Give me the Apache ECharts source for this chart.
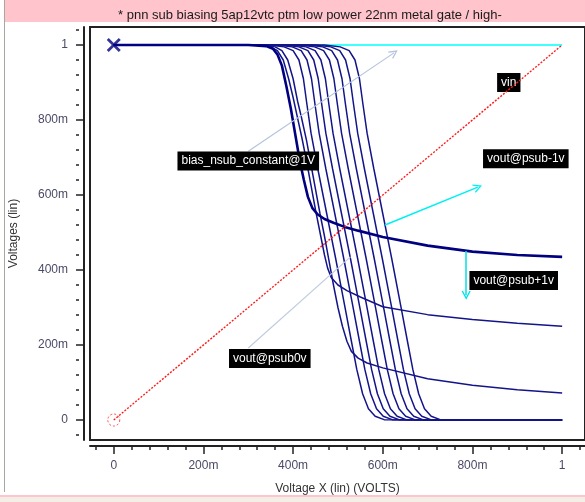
<!DOCTYPE html>
<html><head><meta charset="utf-8">
<script src="https://cdn.jsdelivr.net/npm/echarts@6/dist/echarts.min.js"></script>
<style>html,body{margin:0;padding:0;background:#fff}#c{width:585px;height:502px}</style>
</head><body><div id="c"></div>
<script>
// ---------- text ----------
const titleText = '* pnn sub biasing 5ap12vtc ptm low power 22nm metal gate / high-';
const xAxisName = 'Voltage X (lin) (VOLTS)';
const yAxisName = 'Voltages (lin)';

// ---------- ticks ----------
const majorTicks = [0, 0.2, 0.4, 0.6, 0.8, 1];
const majorTickLabels = ['0', '200m', '400m', '600m', '800m', '1'];
const minorTicks = [-0.04, 0, 0.04, 0.08, 0.12, 0.16, 0.2, 0.24, 0.28, 0.32, 0.36, 0.4, 0.44, 0.48, 0.52,
  0.56, 0.6, 0.64, 0.68, 0.72, 0.76, 0.8, 0.84, 0.88, 0.92, 0.96, 1, 1.04];

// ---------- series data ----------
const vin = [[0, 0], [1, 1]];
const vHigh = [[0, 1], [1, 1]];
const vThick = [[0,1],[0.3,1],[0.34,0.997],[0.355,0.99],[0.365,0.975],[0.375,0.945],[0.385,0.89],[0.395,0.83],
  [0.405,0.76],[0.415,0.69],[0.424,0.64],[0.433,0.595],[0.443,0.565],[0.455,0.548],[0.47,0.536],[0.49,0.526],
  [0.515,0.515],[0.545,0.505],[0.6,0.488],[0.7,0.465],[0.8,0.449],[0.9,0.44],[1,0.435]];
const vA = [[0,1],[0.32,1],[0.35,0.995],[0.365,0.985],[0.378,0.96],[0.39,0.91],[0.4,0.86],[0.41,0.805],
  [0.42,0.75],[0.43,0.69],[0.44,0.625],[0.45,0.56],[0.46,0.5],[0.47,0.44],[0.477,0.405],[0.485,0.38],
  [0.5,0.36],[0.52,0.345],[0.55,0.328],[0.6,0.302],[0.7,0.281],[0.8,0.268],[0.9,0.258],[1,0.25]];
const vB = [[0,1],[0.33,1],[0.36,0.995],[0.375,0.985],[0.388,0.96],[0.4,0.91],[0.41,0.85],[0.418,0.81],
  [0.43,0.745],[0.44,0.68],[0.45,0.615],[0.46,0.55],[0.47,0.49],[0.48,0.425],[0.49,0.36],[0.5,0.3],
  [0.51,0.25],[0.52,0.21],[0.53,0.183],[0.545,0.165],[0.565,0.152],[0.6,0.139],[0.7,0.11],[0.8,0.093],
  [0.9,0.081],[1,0.072]];
const vC = [[0,1],[0.345,1],[0.38,0.995],[0.4,0.985],[0.413,0.96],[0.423,0.91],[0.431,0.84],[0.44,0.765],
  [0.455,0.67],[0.475,0.55],[0.495,0.43],[0.515,0.305],[0.53,0.21],[0.542,0.135],[0.555,0.07],[0.568,0.03],
  [0.583,0.01],[0.603,0.001],[1,0]];
const vD = [[0,1],[0.363,1],[0.398,0.995],[0.418,0.985],[0.431,0.96],[0.441,0.91],[0.449,0.84],[0.458,0.765],
  [0.473,0.67],[0.493,0.55],[0.513,0.43],[0.533,0.305],[0.548,0.21],[0.56,0.135],[0.573,0.07],[0.586,0.03],
  [0.601,0.01],[0.621,0.001],[1,0]];
const vE = [[0,1],[0.378,1],[0.413,0.995],[0.433,0.985],[0.446,0.96],[0.456,0.91],[0.464,0.84],[0.473,0.765],
  [0.488,0.67],[0.508,0.55],[0.528,0.43],[0.548,0.305],[0.563,0.21],[0.575,0.135],[0.588,0.07],[0.601,0.03],
  [0.616,0.01],[0.636,0.001],[1,0]];
const vF = [[0,1],[0.394,1],[0.429,0.995],[0.449,0.985],[0.462,0.96],[0.472,0.91],[0.48,0.84],[0.489,0.765],
  [0.504,0.67],[0.524,0.55],[0.544,0.43],[0.564,0.305],[0.579,0.21],[0.591,0.135],[0.604,0.07],[0.617,0.03],
  [0.632,0.01],[0.652,0.001],[1,0]];
const vG = [[0,1],[0.413,1],[0.448,0.995],[0.468,0.985],[0.481,0.96],[0.491,0.91],[0.499,0.84],[0.508,0.765],
  [0.523,0.67],[0.543,0.55],[0.563,0.43],[0.583,0.305],[0.598,0.21],[0.61,0.135],[0.623,0.07],[0.636,0.03],
  [0.651,0.01],[0.671,0.001],[1,0]];
const vH = [[0,1],[0.431,1],[0.466,0.995],[0.486,0.985],[0.499,0.96],[0.509,0.91],[0.517,0.84],[0.526,0.765],
  [0.541,0.67],[0.561,0.55],[0.581,0.43],[0.601,0.305],[0.616,0.21],[0.628,0.135],[0.641,0.07],[0.654,0.03],
  [0.669,0.01],[0.689,0.001],[1,0]];
const vI = [[0,1],[0.449,1],[0.484,0.995],[0.504,0.985],[0.517,0.96],[0.527,0.91],[0.535,0.84],[0.544,0.765],
  [0.559,0.67],[0.579,0.55],[0.599,0.43],[0.619,0.305],[0.634,0.21],[0.646,0.135],[0.659,0.07],[0.672,0.03],
  [0.687,0.01],[0.707,0.001],[1,0]];
const vR = [[0,1],[0.47,1],[0.505,0.995],[0.525,0.985],[0.538,0.96],[0.548,0.91],[0.556,0.84],[0.565,0.765],
  [0.58,0.67],[0.6,0.55],[0.62,0.43],[0.64,0.305],[0.655,0.21],[0.667,0.135],[0.68,0.07],[0.693,0.03],
  [0.708,0.01],[0.728,0.001],[1,0]];
const crossMarker = [[0, 1]];
const circleMarker = [[0, 0]];

// ---------- annotations (data coordinates) ----------
const annotationTexts = ['vin', 'bias_nsub_constant@1V', 'vout@psub-1v', 'vout@psub+1v', 'vout@psub0v'];
const annotationCoords = [[0.881, 0.9], [0.300, 0.691], [0.919, 0.697], [0.892, 0.372], [0.348, 0.164]];
const arrowFrom = [[0.300, 0.717], [0.300, 0.192], [0.605, 0.52], [0.786, 0.451]];
const arrowTo   = [[0.625, 0.979], [0.528, 0.435], [0.812, 0.621], [0.786, 0.333]];

// ---------- chart ----------
const FONT = 'Liberation Sans';
const LBL = '#4a4a66';
const AX = '#222';
const chevron = 'path://M0,10 L5,0 L10,10 L8.6,10.6 L5,3.2 L1.4,10.6 Z';
const xMin = -0.053, xMax = 1.051, yMin = -0.0533, yMax = 1.048;
const GL = 87, GT = 27, GW = 500, GH = 413, AXOFF = 6;

function fmt(v) {
  for (let i = 0; i < majorTicks.length; i++) if (Math.abs(majorTicks[i] - v) < 1e-6) return majorTickLabels[i];
  return '';
}

const chart = echarts.init(document.getElementById('c'), null, {renderer: 'canvas'});

const navy = '#000080';
const thin = (name, data) => ({
  name, type: 'line', data, xAxisIndex: 0, yAxisIndex: 0, showSymbol: false, symbol: 'none',
  lineStyle: {color: '#14148a', width: 1.5}, z: 3, animation: false, silent: true
});

const option = {
  backgroundColor: '#ffffff',
  animation: false,
  title: {
    text: titleText, left: 113, top: 4,
    textStyle: {fontFamily: FONT, fontSize: 13, fontWeight: 'normal', color: '#1a1a1a'}
  },
  graphic: [
    {type: 'rect', z: -10, shape: {x: 5, y: 0, width: 580, height: 22}, style: {fill: '#ffc4cc'}},
    {type: 'line', z: 10, shape: {x1: 4.5, y1: 0, x2: 4.5, y2: 492}, style: {stroke: '#a8a8a0', lineWidth: 1}},
    {type: 'rect', z: -10, shape: {x: 0, y: 495, width: 585, height: 2}, style: {fill: '#ffc4cc'}},
    {type: 'rect', z: -10, shape: {x: 0, y: 497, width: 585, height: 5}, style: {fill: '#f3efe6'}}
  ],
  grid: {
    left: GL, top: GT, width: GW, height: GH, show: true,
    borderColor: '#222', borderWidth: 2, backgroundColor: '#fff', containLabel: false
  },
  xAxis: [
    {
      type: 'value', min: xMin, max: xMax, position: 'bottom', offset: AXOFF,
      name: xAxisName, nameLocation: 'middle', nameGap: 37,
      nameTextStyle: {fontFamily: FONT, fontSize: 12, color: '#333'},
      axisLine: {show: true, onZero: false, lineStyle: {color: AX, width: 2}},
      axisTick: {show: true, length: 8, customValues: majorTicks, lineStyle: {color: AX, width: 1.5}},
      axisLabel: {show: true, customValues: majorTicks, formatter: fmt, margin: 14,
        fontFamily: FONT, fontSize: 12, color: LBL},
      splitLine: {show: false}
    },
    {
      // minor ticks: placed on the opposite side and shifted down onto the bottom axis line
      type: 'value', min: xMin, max: xMax, position: 'top', offset: -(GH + AXOFF),
      axisLine: {show: false, onZero: false},
      axisTick: {show: true, inside: true, length: 4, customValues: minorTicks, lineStyle: {color: AX, width: 1.5}},
      axisLabel: {show: false},
      splitLine: {show: false}
    }
  ],
  yAxis: [
    {
      type: 'value', min: yMin, max: yMax, position: 'left', offset: AXOFF,
      name: yAxisName, nameLocation: 'middle', nameGap: 64, nameRotate: 90,
      nameTextStyle: {fontFamily: FONT, fontSize: 12, color: '#333'},
      axisLine: {show: true, onZero: false, lineStyle: {color: AX, width: 2}},
      axisTick: {show: true, length: 6, customValues: majorTicks, lineStyle: {color: AX, width: 1.5}},
      axisLabel: {show: true, customValues: majorTicks, formatter: fmt, margin: 16,
        fontFamily: FONT, fontSize: 12, color: LBL},
      splitLine: {show: false}
    },
    {
      type: 'value', min: yMin, max: yMax, position: 'right', offset: -(GW + AXOFF),
      axisLine: {show: false, onZero: false},
      axisTick: {show: true, inside: true, length: 3, customValues: minorTicks, lineStyle: {color: AX, width: 1.5}},
      axisLabel: {show: false},
      splitLine: {show: false}
    }
  ],
  series: [
    {
      name: 'vhigh', type: 'line', data: vHigh, showSymbol: false, symbol: 'none',
      lineStyle: {color: '#00ffff', width: 1.6}, z: 2, silent: true
    },
    thin('vC', vC), thin('vD', vD), thin('vE', vE), thin('vF', vF), thin('vG', vG),
    thin('vH', vH), thin('vI', vI), thin('vR', vR), thin('vA', vA), thin('vB', vB),
    {
      name: 'vthick', type: 'line', data: vThick, showSymbol: false, symbol: 'none',
      lineStyle: {color: navy, width: 2.6}, z: 4, silent: true
    },
    {
      name: 'vin', type: 'line', data: vin, showSymbol: false, symbol: 'none',
      lineStyle: {color: '#ff1a1a', width: 1.4, type: [2, 1.5]}, z: 5, silent: true
    },
    {
      name: 'crossMarker', type: 'scatter', data: crossMarker, symbolSize: 14,
      symbol: 'path://M0,1.4 L1.4,0 L5,3.6 L8.6,0 L10,1.4 L6.4,5 L10,8.6 L8.6,10 L5,6.4 L1.4,10 L0,8.6 L3.6,5 Z',
      itemStyle: {color: navy}, z: 6, silent: true
    },
    {
      name: 'circleMarker', type: 'scatter', data: circleMarker, symbolSize: 12, symbol: 'circle',
      itemStyle: {color: 'rgba(0,0,0,0)', borderColor: '#ff2020', borderWidth: 1, borderType: [2, 2]},
      z: 6, silent: true
    },
    {
      name: 'annotations', type: 'line', data: [], z: 7, silent: true,
      markLine: {
        silent: true, animation: false, symbol: ['none', chevron], symbolSize: [9, 9],
        label: {show: false},
        data: [
          [{coord: arrowFrom[0], lineStyle: {color: '#b4c4dc', width: 1.2, type: 'solid'}}, {coord: arrowTo[0]}],
          [{coord: arrowFrom[1], lineStyle: {color: '#c0cce0', width: 1.2, type: 'solid'}, symbol: 'none'}, {coord: arrowTo[1], symbol: 'none'}],
          [{coord: arrowFrom[2], lineStyle: {color: '#00f0f0', width: 1.5, type: 'solid'}}, {coord: arrowTo[2]}],
          [{coord: arrowFrom[3], lineStyle: {color: '#00e0e8', width: 1.5, type: 'solid'}}, {coord: arrowTo[3]}]
        ]
      },
      markPoint: {
        silent: true, animation: false, symbol: 'circle', symbolSize: 1,
        itemStyle: {color: 'rgba(0,0,0,0)'},
        label: {
          show: true, position: 'inside', color: '#ffffff', backgroundColor: '#000000',
          fontFamily: FONT, fontSize: 12, padding: [4, 4, 3, 4],
          formatter: p => p.name
        },
        data: annotationTexts.map((t, i) => ({name: t, coord: annotationCoords[i]}))
      }
    }
  ]
};
chart.setOption(option);
</script></body></html>
